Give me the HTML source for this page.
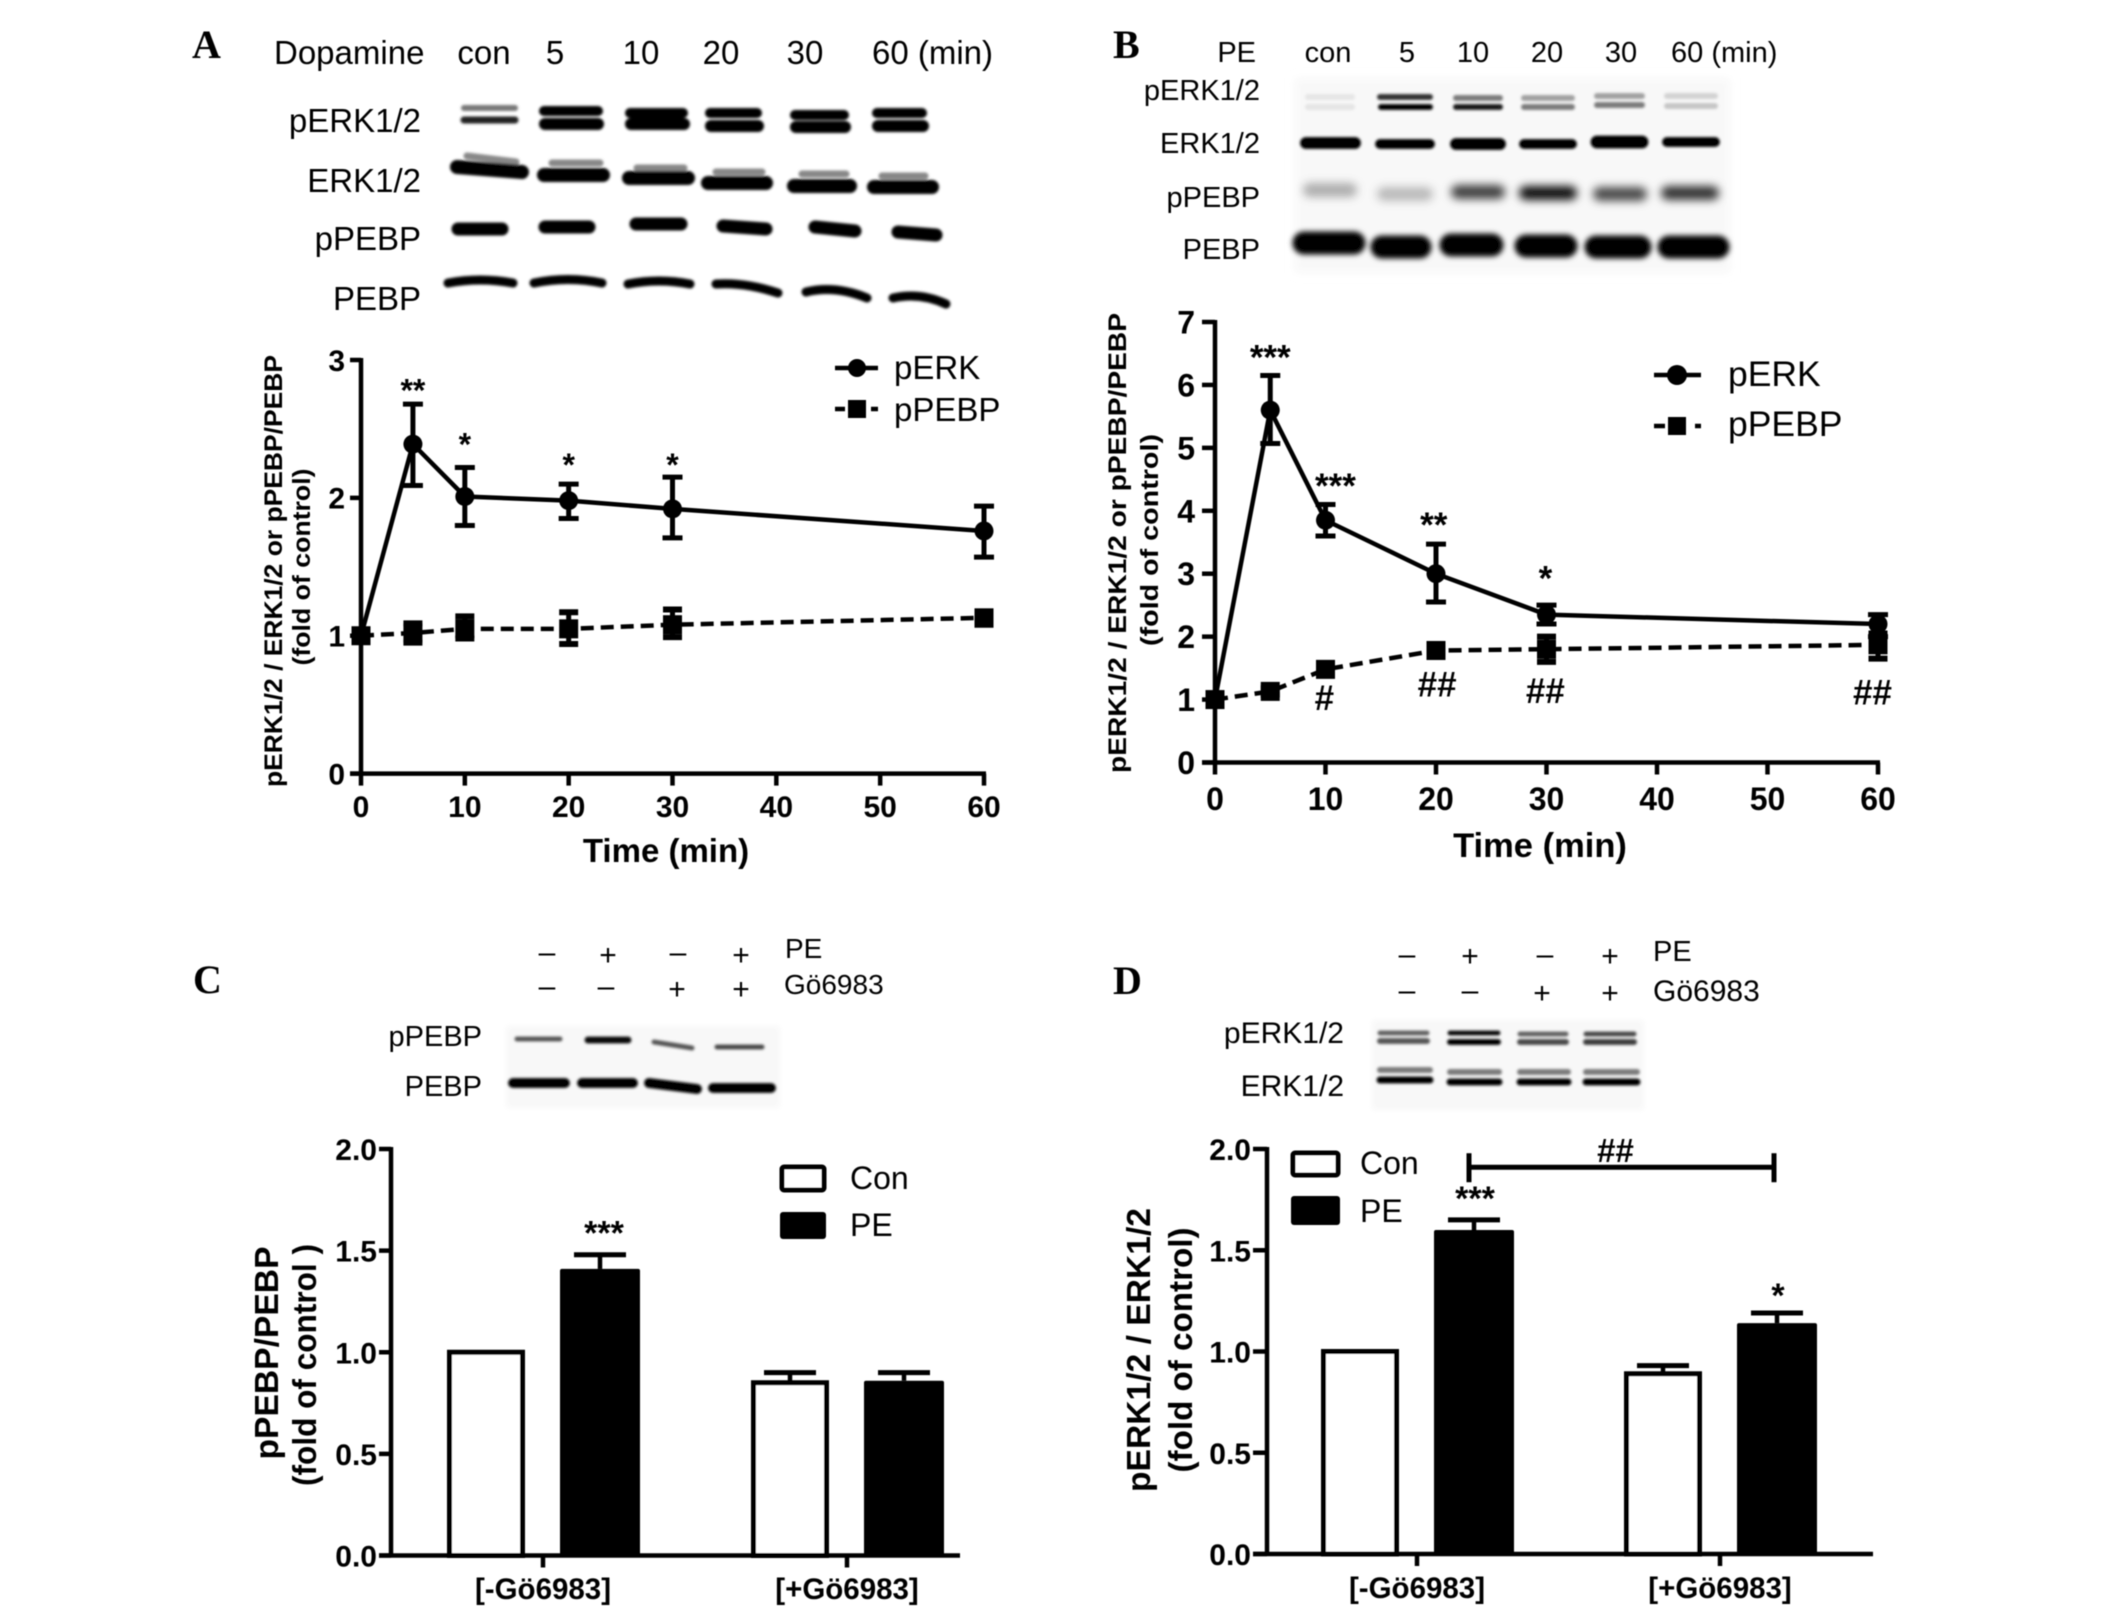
<!DOCTYPE html>
<html lang="en">
<head>
<meta charset="utf-8">
<title>Western blots and time course charts</title>
<style>
html,body{margin:0;padding:0;background:#fff}
svg{display:block}
text{font-family:"Liberation Sans",sans-serif;fill:#000}
.letter{font-family:"Liberation Serif",serif;font-weight:bold;font-size:40px}
.h33{font-size:33px}.h29{font-size:29px}
.m{text-anchor:middle}.e{text-anchor:end}
.leg30{font-size:33px}.leg35{font-size:35.5px}.leg32{font-size:32px}
.sign{font-size:30px;text-anchor:middle}
.b path{fill:none;stroke-linecap:round}
</style>
</head>
<body>
<svg id="figure" xmlns="http://www.w3.org/2000/svg" width="2126" height="1616" viewBox="0 0 2126 1616">
<defs>
<filter id="soft" filterUnits="userSpaceOnUse" x="0" y="0" width="2126" height="1616"><feGaussianBlur stdDeviation="0.55"/></filter>
<filter id="blur1" filterUnits="userSpaceOnUse" x="0" y="0" width="2126" height="1616"><feGaussianBlur stdDeviation="1.3"/></filter>
<filter id="blur2" filterUnits="userSpaceOnUse" x="0" y="0" width="2126" height="1616"><feGaussianBlur stdDeviation="2.6"/></filter>
<filter id="blur3" filterUnits="userSpaceOnUse" x="0" y="0" width="2126" height="1616"><feGaussianBlur stdDeviation="4.5"/></filter>
</defs>
<rect width="2126" height="1616" fill="#fff"/>
<g id="root" filter="url(#soft)">

<!-- Panel A header -->
<text class="letter" x="192" y="58">A</text>
<g class="h33">
<text x="274" y="64">Dopamine</text>
<text class="m" x="484" y="64">con</text>
<text class="m" x="555" y="64">5</text>
<text class="m" x="641" y="64">10</text>
<text class="m" x="721" y="64">20</text>
<text class="m" x="805" y="64">30</text>
<text x="872" y="64">60 (min)</text>
<text class="e" x="421" y="132">pERK1/2</text>
<text class="e" x="421" y="192">ERK1/2</text>
<text class="e" x="421" y="250">pPEBP</text>
<text class="e" x="421" y="310">PEBP</text>
</g>
<g class="b" filter="url(#blur1)">
<g stroke="#777" stroke-width="6"><path d="M464 108H515"/></g>
<g stroke="#222" stroke-width="7"><path d="M464 120H515"/></g>
<g stroke="#000" stroke-width="10"><path d="M544 111H598"/><path d="M630 113H683"/><path d="M710 113H757"/><path d="M795 115H844"/><path d="M877 113H922"/></g>
<g stroke="#000" stroke-width="12"><path d="M545 124H598"/><path d="M631 124H684"/><path d="M711 126H758"/><path d="M796 127H845"/><path d="M878 126H923"/></g>
<g stroke="#888" stroke-width="7"><path d="M467 156L516 162"/><path d="M552 163H600"/><path d="M637 168H684"/><path d="M716 172H762"/><path d="M802 174H846"/><path d="M882 176H925"/></g>
<g stroke="#000" stroke-width="14"><path d="M457 167L522 172"/><path d="M544 175H603"/><path d="M629 178H688"/><path d="M708 183H766"/><path d="M794 186H850"/><path d="M874 187H932"/></g>
<g stroke="#000" stroke-width="13"><path d="M458 229H502"/><path d="M545 227H589"/><path d="M636 224H681"/><path d="M723 226L766 229"/><path d="M815 227L855 231"/><path d="M898 232L936 235"/></g>
<g stroke="#000" stroke-width="9"><path d="M448 283Q480 277 513 283"/><path d="M534 283Q568 276 602 283"/><path d="M628 284Q659 278 690 284"/><path d="M716 284Q745 282 778 293"/><path d="M806 292Q835 285 867 298"/><path d="M893 298Q920 292 946 304"/></g>
</g>

<!-- Panel B header -->
<text class="letter" x="1113" y="58">B</text>
<g class="h29">
<text class="e" x="1256" y="62">PE</text>
<text class="m" x="1328" y="62">con</text>
<text class="m" x="1407" y="62">5</text>
<text class="m" x="1473" y="62">10</text>
<text class="m" x="1547" y="62">20</text>
<text class="m" x="1621" y="62">30</text>
<text x="1671" y="62">60 (min)</text>
<text class="e" x="1260" y="100">pERK1/2</text>
<text class="e" x="1260" y="153">ERK1/2</text>
<text class="e" x="1260" y="207">pPEBP</text>
<text class="e" x="1260" y="259">PEBP</text>
</g>
<rect x="1295" y="78" width="435" height="195" fill="#f8f8f8" filter="url(#blur3)"/>
<g class="b">
<g filter="url(#blur1)" stroke="#000" stroke-width="6">
<path d="M1308 97H1352" stroke-opacity=".07"/><path d="M1380 97H1430" stroke-opacity=".8"/><path d="M1456 98H1500" stroke-opacity=".5"/><path d="M1524 98H1572" stroke-opacity=".35"/><path d="M1597 96H1642" stroke-opacity=".35"/><path d="M1667 96H1715" stroke-opacity=".15"/>
<path d="M1308 107H1352" stroke-opacity=".08"/><path d="M1381 107H1430"/><path d="M1456 107H1500" stroke-opacity=".9"/><path d="M1524 107H1572" stroke-opacity=".5"/><path d="M1597 105H1642" stroke-opacity=".5"/><path d="M1667 106H1715" stroke-opacity=".2"/>
</g>
<g filter="url(#blur1)" stroke="#000" stroke-width="10"><path d="M1306 143H1355" stroke-width="12"/><path d="M1380 144H1430"/><path d="M1456 144H1500" stroke-width="12"/><path d="M1524 144H1572"/><path d="M1597 142H1642" stroke-width="13"/><path d="M1667 142H1715"/></g>
<g filter="url(#blur3)" stroke="#000" stroke-width="14"><path d="M1310 190H1350" stroke-opacity=".3"/><path d="M1384 194H1426" stroke-opacity=".25"/><path d="M1458 192H1498" stroke-opacity=".75"/><path d="M1526 193H1570" stroke-opacity=".95"/><path d="M1600 194H1640" stroke-opacity=".7"/><path d="M1668 193H1712" stroke-opacity=".8"/></g>
<g filter="url(#blur2)" stroke="#000" stroke-width="23"><path d="M1304 243H1354"/><path d="M1382 247H1420"/><path d="M1451 245H1492"/><path d="M1526 246H1566"/><path d="M1596 247H1640"/><path d="M1669 247H1718"/></g>
</g>

<!-- Panel C header -->
<text class="letter" x="193" y="993">C</text>
<g>
<text class="sign" x="547" y="962">–</text>
<text class="sign" x="608" y="965">+</text>
<text class="sign" x="678" y="962">–</text>
<text class="sign" x="741" y="965">+</text>
<text class="sign" x="547" y="996">–</text>
<text class="sign" x="606" y="996">–</text>
<text class="sign" x="677" y="999">+</text>
<text class="sign" x="741" y="999">+</text>
<text class="h29" style="font-size:28px" x="785" y="958">PE</text>
<text class="h29" style="font-size:28px" x="784" y="994">Gö6983</text>
<text class="h29 e" x="482" y="1046">pPEBP</text>
<text class="h29 e" x="482" y="1096">PEBP</text>
</g>
<rect x="506" y="1026" width="274" height="82" fill="#f8f8f8" filter="url(#blur2)"/>
<g class="b" filter="url(#blur1)">
<g stroke="#000" stroke-width="5"><path d="M517 1039H560" stroke-opacity=".65"/><path d="M588 1040H628" stroke-width="7" stroke-opacity=".95"/><path d="M654 1042L692 1048" stroke-opacity=".65"/><path d="M717 1047H762" stroke-opacity=".7"/></g>
<g stroke="#000" stroke-width="10"><path d="M513 1083H565"/><path d="M582 1083H633"/><path d="M649 1083L697 1089"/><path d="M713 1088H771"/></g>
</g>

<!-- Panel D header -->
<text class="letter" x="1113" y="994">D</text>
<g>
<text class="sign" x="1407" y="964">–</text>
<text class="sign" x="1470" y="966">+</text>
<text class="sign" x="1545" y="964">–</text>
<text class="sign" x="1610" y="966">+</text>
<text class="sign" x="1407" y="1000">–</text>
<text class="sign" x="1470" y="1000">–</text>
<text class="sign" x="1542" y="1003">+</text>
<text class="sign" x="1610" y="1003">+</text>
<text class="h29" x="1653" y="961">PE</text>
<text class="h29" style="font-size:30px" x="1653" y="1001">Gö6983</text>
<text class="h29 e" style="font-size:30px" x="1344" y="1043">pERK1/2</text>
<text class="h29 e" style="font-size:30px" x="1344" y="1096">ERK1/2</text>
</g>
<rect x="1372" y="1020" width="272" height="90" fill="#f8f8f8" filter="url(#blur2)"/>
<g class="b" filter="url(#blur1)">
<g stroke="#000" stroke-width="5"><path d="M1380 1033H1427" stroke-opacity=".6"/><path d="M1450 1033H1498" stroke-opacity=".95"/><path d="M1520 1034H1566" stroke-opacity=".6"/><path d="M1586 1034H1634" stroke-opacity=".7"/></g>
<g stroke="#000" stroke-width="6"><path d="M1380 1041H1427" stroke-opacity=".65"/><path d="M1450 1042H1498"/><path d="M1520 1042H1566" stroke-opacity=".7"/><path d="M1586 1042H1634" stroke-opacity=".75"/></g>
<g stroke="#000" stroke-width="6" stroke-opacity=".5"><path d="M1380 1070H1430"/><path d="M1450 1072H1499"/><path d="M1520 1072H1568"/><path d="M1586 1072H1637"/></g>
<g stroke="#000" stroke-width="7"><path d="M1380 1080H1430"/><path d="M1450 1082H1499"/><path d="M1520 1082H1568"/><path d="M1586 1082H1637"/></g>
</g>

<!-- Legends -->
<g>
<g><path d="M835 368H878" stroke="#000" stroke-width="4.5" fill="none"/><circle cx="857" cy="368" r="9"/><text class="leg30" x="894" y="379">pERK</text></g>
<g><path d="M835 409H878" stroke="#000" stroke-width="4.5" stroke-dasharray="10 26 7 0" fill="none"/><rect x="848" y="400" width="18" height="18"/><text class="leg30" x="894" y="421">pPEBP</text></g>
</g>
<g>
<g><path d="M1654 375H1701" stroke="#000" stroke-width="4.5" fill="none"/><circle cx="1677" cy="375" r="10"/><text class="leg35" x="1728" y="386">pERK</text></g>
<g><path d="M1654 426H1701" stroke="#000" stroke-width="4.5" stroke-dasharray="11 30 6 0" fill="none"/><rect x="1668" y="417" width="18" height="18"/><text class="leg35" x="1728" y="436">pPEBP</text></g>
</g>
<g>
<g><rect x="782" y="1167" width="42" height="23" rx="2" fill="#fff" stroke="#000" stroke-width="5"/><text class="leg32" x="850" y="1189">Con</text></g>
<g><rect x="780" y="1212" width="46" height="27" rx="3"/><text class="leg32" x="850" y="1236">PE</text></g>
</g>
<g>
<g><rect x="1293" y="1153" width="45" height="22" rx="2" fill="#fff" stroke="#000" stroke-width="5"/><text class="leg32" x="1360" y="1174">Con</text></g>
<g><rect x="1291" y="1196" width="49" height="29" rx="3"/><text class="leg32" x="1360" y="1222">PE</text></g>
</g>

<g id="charts"></g>
</g>
</svg>
<script>
// Panel A data
const timesA = [0, 5, 10, 20, 30, 60];
const perkA = [1, 2.39, 2.01, 1.98, 1.92, 1.76];
const perkLowA = [1, 2.09, 1.80, 1.85, 1.71, 1.57];
const perkHighA = [1, 2.68, 2.22, 2.10, 2.15, 1.94];
const ppebpA = [1, 1.02, 1.05, 1.05, 1.08, 1.13];
const ppebpLowA = [1, 0.95, 0.98, 0.94, 0.99, 1.08];
const ppebpHighA = [1, 1.09, 1.14, 1.17, 1.19, 1.17];
const yTicksA = [0, 1, 2, 3];
const xTickLabels = [0, 10, 20, 30, 40, 50, 60];
const noteTextA = ['**', '*', '*', '*'];
const noteTimesA = [5, 10, 20, 30];
const noteLevelsA = [2.81, 2.42, 2.27, 2.27];

// Panel B data
const timesB = [0, 5, 10, 20, 30, 60];
const perkB = [1, 5.6, 3.85, 3.0, 2.35, 2.2];
const perkLowB = [1, 5.07, 3.6, 2.55, 2.2, 2.0];
const perkHighB = [1, 6.15, 4.1, 3.47, 2.5, 2.35];
const ppebpB = [1, 1.13, 1.48, 1.78, 1.8, 1.87];
const ppebpLowB = [1, 1.08, 1.42, 1.72, 1.6, 1.65];
const ppebpHighB = [1, 1.18, 1.54, 1.84, 2.0, 2.05];
const yTicksB = [0, 1, 2, 3, 4, 5, 6, 7];
const noteTextB = ['***', '***', '**', '*', '#', '##', '##', '##'];
const noteTimesB = [5, 10.9, 19.8, 29.9, 9.9, 20.1, 29.9, 59.5];
const noteLevelsB = [6.51, 4.47, 3.85, 3.0, 1.03, 1.24, 1.14, 1.12];

// Panel C data
const categories = ['[-Gö6983]', '[+Gö6983]'];
const conC = [1.0, 0.85];
const peC = [1.41, 0.86];
const conHighC = [1.0, 0.90];
const peHighC = [1.48, 0.90];
const yTickLabelsBar = ['0.0', '0.5', '1.0', '1.5', '2.0'];
const peNotesC = ['***', ''];
const peNoteLevelsC = [1.61, 0];

// Panel D data
const conD = [1.0, 0.89];
const peD = [1.60, 1.14];
const conHighD = [1.0, 0.93];
const peHighD = [1.65, 1.19];
const peNotesD = ['***', '*'];
const peNoteLevelsD = [1.78, 1.30];
const bracketLevelD = [1.91];
const bracketLabelD = ['##'];

const NS = 'http://www.w3.org/2000/svg';
const charts = document.getElementById('charts');

function mk(tag, attrs, parent) {
  const n = document.createElementNS(NS, tag);
  for (const k in attrs) n.setAttribute(k, attrs[k]);
  parent.appendChild(n);
  return n;
}
function segment(x1, y1, x2, y2, width, parent) {
  return mk('line', {x1: x1, y1: y1, x2: x2, y2: y2, stroke: '#000', 'stroke-width': width}, parent);
}
function label(str, x, y, size, anchor, bold, parent) {
  const t = mk('text', {x: x, y: y, 'font-size': size, 'text-anchor': anchor, 'font-weight': bold ? 'bold' : 'normal'}, parent);
  t.textContent = str;
  return t;
}
function rotatedLabel(str, x, y, size, len, parent) {
  const t = mk('text', {transform: 'translate(' + x + ',' + y + ') rotate(-90)', 'font-size': size, 'font-weight': 'bold', 'text-anchor': 'middle', textLength: len, lengthAdjust: 'spacingAndGlyphs'}, parent);
  t.textContent = str;
  return t;
}

function drawLineSeries(name, times, vals, lows, highs, dashed, sx, sy, capHalf, capWidth, marker, parent) {
  const g = mk('g', {}, parent);
  
  
  const d = times.map(function (t, i) { return (i ? 'L' : 'M') + sx(t) + ' ' + sy(vals[i]); }).join('');
  const path = mk('path', {d: d, fill: 'none', stroke: '#000', 'stroke-width': 4.5, 'stroke-dasharray': dashed ? '13 7' : 'none'}, g);
  
  
  times.forEach(function (t, i) {
    if (highs[i] !== lows[i]) {
      const stem = segment(sx(t), sy(highs[i]), sx(t), sy(lows[i]), 5, g);
      
      
      const capTop = segment(sx(t) - capHalf, sy(highs[i]), sx(t) + capHalf, sy(highs[i]), capWidth, g);
      
      
      const capBottom = segment(sx(t) - capHalf, sy(lows[i]), sx(t) + capHalf, sy(lows[i]), capWidth, g);
      
      
    }
    let m;
    if (marker === 'circle') {
      m = mk('circle', {cx: sx(t), cy: sy(vals[i]), r: 9.5}, g);
    } else {
      m = mk('rect', {x: sx(t) - 9.5, y: sy(vals[i]) - 9.5, width: 19, height: 19}, g);
    }
    
    
  });
}

function drawNote(str, x, y, size, parent) {
  const isHash = str.charAt(0) === '#';
  const t = label(str, x, y + (isHash ? 0.35 : 0.48) * size, size, 'middle', true, parent);
  
  
}

function drawLineChart(c) {
  const g = mk('g', {}, charts);
  
  
  const sx = function (t) { return c.x0 + t / 60 * (c.x1 - c.x0); };
  const yMax = c.yTicks[c.yTicks.length - 1];
  const sy = function (v) { return c.y0 - v / yMax * (c.y0 - c.yTop); };

  const yAxis = segment(c.x0, c.yTop - 2, c.x0, c.y0 + 2, 4.5, g);
  
  
  const xAxis = segment(c.x0 - c.tick, c.y0, c.x1 + 2, c.y0, 4.5, g);
  
  

  c.yTicks.forEach(function (v) {
    const tk = segment(c.x0 - c.tick, sy(v), c.x0, sy(v), 4.5, g);
    
    
    const tx = label(String(v), c.yLabelX, sy(v) + c.fs * 0.36, c.fs, 'end', true, g);
    
    
  });
  xTickLabels.forEach(function (v) {
    const tk = segment(sx(v), c.y0, sx(v), c.y0 + 12, 4.5, g);
    
    
    const tx = label(String(v), sx(v), c.xLabelY, c.fs, 'middle', true, g);
    
    
  });

  const xt = label('Time (min)', c.xTitleX, c.xTitleY, c.xTitleFs, 'middle', true, g);
  
  
  const yt1 = rotatedLabel('pERK1/2 / ERK1/2 or pPEBP/PEBP', c.yT1[0], c.yT1[1], 25, c.yT1[2], g);
  
  
  const yt2 = rotatedLabel('(fold of control)', c.yT2[0], c.yT2[1], 25, c.yT2[2], g);
  
  

  drawLineSeries('ppebp', c.times, c.ppebp, c.ppebpLow, c.ppebpHigh, true, sx, sy, 9.5, 6, 'square', g);
  drawLineSeries('perk', c.times, c.perk, c.perkLow, c.perkHigh, false, sx, sy, 10, 5, 'circle', g);

  c.noteText.forEach(function (s, i) {
    drawNote(s, sx(c.noteTimes[i]), sy(c.noteLevels[i]), c.noteFs, g);
  });
}

drawLineChart({
  name: 'panel-a-chart', x0: 361, x1: 984, y0: 773.6, yTop: 360, tick: 11, yLabelX: 345, xLabelY: 817, fs: 30,
  xTitleX: 666, xTitleY: 862, xTitleFs: 33, yT1: [282, 571, 432], yT2: [310, 567, 197],
  times: timesA, perk: perkA, perkLow: perkLowA, perkHigh: perkHighA,
  ppebp: ppebpA, ppebpLow: ppebpLowA, ppebpHigh: ppebpHighA, yTicks: yTicksA,
  noteText: noteTextA, noteTimes: noteTimesA, noteLevels: noteLevelsA, noteFs: 32
});
drawLineChart({
  name: 'panel-b-chart', x0: 1215, x1: 1878, y0: 762.5, yTop: 322, tick: 13, yLabelX: 1195, xLabelY: 810, fs: 32,
  xTitleX: 1540, xTitleY: 857, xTitleFs: 34.5, yT1: [1126, 543, 460], yT2: [1158, 540, 212],
  times: timesB, perk: perkB, perkLow: perkLowB, perkHigh: perkHighB,
  ppebp: ppebpB, ppebpLow: ppebpLowB, ppebpHigh: ppebpHighB, yTicks: yTicksB,
  noteText: noteTextB, noteTimes: noteTimesB, noteLevels: noteLevelsB, noteFs: 35
});

function drawBar(name, cx, halfW, value, filled, sy, y0, parent) {
  let bar;
  if (filled) {
    bar = mk('rect', {x: cx - halfW, y: sy(value), width: halfW * 2, height: y0 - sy(value), rx: 2}, parent);
  } else {
    bar = mk('rect', {x: cx - halfW + 2.5, y: sy(value), width: halfW * 2 - 5, height: y0 - sy(value), fill: '#fff', stroke: '#000', 'stroke-width': 5}, parent);
  }
  
  
}
function drawBarError(name, cx, value, high, sy, parent) {
  if (high <= value) return;
  const stem = segment(cx, sy(high), cx, sy(value), 4.5, parent);
  
  
  const cap = segment(cx - 26, sy(high), cx + 26, sy(high), 5, parent);
  
  
}

function drawBarChart(c) {
  const g = mk('g', {}, charts);
  
  
  const yMax = parseFloat(yTickLabelsBar[yTickLabelsBar.length - 1]);
  const sy = function (v) { return c.y0 - v / yMax * (c.y0 - c.yTop); };
  const cat = function (i) { return c.c0 + i * c.step; };

  categories.forEach(function (name, i) {
    drawBarError('con', cat(i) - c.off, c.con[i], c.conHigh[i], sy, g);
    drawBarError('pe', cat(i) + c.off, c.pe[i], c.peHigh[i], sy, g);
    drawBar('bar-con-' + i, cat(i) - c.off, 39, c.con[i], false, sy, c.y0, g);
    drawBar('bar-pe-' + i, cat(i) + c.off, 40, c.pe[i], true, sy, c.y0, g);
    const tk = segment(cat(i), c.y0, cat(i), c.y0 + 12, 4.5, g);
    
    
    const tx = label(name, cat(i), c.catY, 29.5, 'middle', true, g);
    
    
    if (c.notes[i]) {
      drawNote(c.notes[i], cat(i) + c.off + c.noteDx, sy(c.noteLevels[i]), 34, g);
    }
  });

  const yAxis = segment(c.x0, c.yTop - 2, c.x0, c.y0 + 2, 4.5, g);
  
  
  const xAxis = segment(c.x0 - c.tick, c.y0, c.xEnd, c.y0, 4.5, g);
  
  

  yTickLabelsBar.forEach(function (s) {
    const v = parseFloat(s);
    const tk = segment(c.x0 - c.tick, sy(v), c.x0, sy(v), 4.5, g);
    
    
    const tx = label(s, c.x0 - c.tick - 2, sy(v) + 11, 30, 'end', true, g);
    
    
  });

  const yt1 = rotatedLabel(c.title, c.yT1[0], c.yT1[1], 33, c.yT1[2], g);
  
  
  const yt2 = rotatedLabel(c.subtitle, c.yT2[0], c.yT2[1], 33, c.yT2[2], g);
  
  

  if (c.bracket) {
    const by = sy(c.bracket[0]);
    const bx1 = cat(0) + c.off - 5;
    const bx2 = cat(1) + c.off - 3;
    const bar = segment(bx1, by, bx2, by, 5, g);
    
    
    const endL = segment(bx1, by - 14, bx1, by + 15, 5, g);
    
    
    const endR = segment(bx2, by - 14, bx2, by + 15, 5, g);
    
    
    const lb = label(c.bracketLabel[0], (bx1 + bx2) / 2 - 6, by - 5, 33, 'middle', true, g);
    
    
  }
}

drawBarChart({
  name: 'panel-c-chart', x0: 391, y0: 1555.5, yTop: 1149, tick: 12, xEnd: 960, c0: 543, step: 304, off: 57, catY: 1599,
  con: conC, pe: peC, conHigh: conHighC, peHigh: peHighC, notes: peNotesC, noteLevels: peNoteLevelsC, noteDx: 4,
  title: 'pPEBP/PEBP', subtitle: '(fold of control )', yT1: [278, 1353, 213], yT2: [316, 1365, 242]
});
drawBarChart({
  name: 'panel-d-chart', x0: 1267, y0: 1554, yTop: 1149, tick: 14, xEnd: 1873, c0: 1417, step: 303, off: 57, catY: 1598,
  con: conD, pe: peD, conHigh: conHighD, peHigh: peHighD, notes: peNotesD, noteLevels: peNoteLevelsD, noteDx: 1,
  title: 'pERK1/2 / ERK1/2', subtitle: '(fold of control)', yT1: [1150, 1350, 284], yT2: [1192, 1350, 245],
  bracket: bracketLevelD, bracketLabel: bracketLabelD
});
</script>
</body>
</html>
